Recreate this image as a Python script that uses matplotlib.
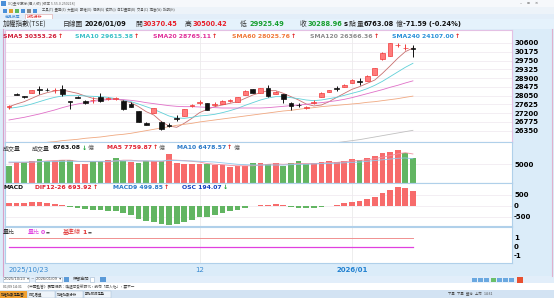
import numpy as np
import matplotlib.pyplot as plt
from matplotlib.patches import Rectangle

W, H = 554, 298
CJK = ['Noto Sans CJK TC', 'DejaVu Sans']

# ---- daily candles 2025/10/23 .. 2026/01/09 ----
opens = [27500, 28090, 28030, 28190, 28340, 28330, 28310, 28360, 27770, 27980,
         27810, 27820, 28000, 27900, 27900, 27810, 27650, 27300, 26710, 27220,
         26790, 26620, 26960, 27060, 27550, 27700, 27680, 27610, 27650, 27780,
         27760, 28080, 28360, 28190, 28400, 28130, 28130, 27710, 27610, 27460,
         27680, 28000, 28240, 28420, 28480, 28680, 28740, 28780, 29050, 29810,
         29970, 30480, 30340, 30370.45]
highs = [27590, 28200, 28050, 28340, 28520, 28440, 28440, 28570, 27790, 28010,
         27830, 27970, 28190, 28000, 28000, 27830, 27720, 27320, 26780, 27460,
         26820, 26720, 27100, 27420, 27650, 27840, 27700, 27720, 27830, 27880,
         28000, 28300, 28380, 28420, 28560, 28260, 28150, 27730, 27700, 27560,
         27830, 28210, 28340, 28520, 28590, 28840, 28890, 29030, 29400, 30150,
         30600, 30580, 30560, 30500.42]
lows = [27420, 28060, 27950, 28170, 28130, 28280, 28190, 28030, 27390, 27930,
        27660, 27710, 27760, 27850, 27860, 27370, 27480, 26750, 26620, 27200,
        26400, 26520, 26830, 27040, 27500, 27600, 27330, 27540, 27630, 27720,
        27740, 28070, 28180, 28170, 28000, 28110, 27710, 27350, 27480, 27400,
        27660, 27990, 28220, 28290, 28460, 28660, 28560, 28760, 29030, 29790,
        29950, 30420, 30280, 29925.49]
closes = [27530, 28070, 27970, 28320, 28320, 28300, 28330, 28130, 27740, 27950,
          27680, 27850, 27800, 27930, 27920, 27390, 27500, 26770, 26650, 27430,
          26440, 26570, 26920, 27400, 27580, 27730, 27360, 27640, 27800, 27800,
          27970, 28290, 28200, 28400, 28030, 28240, 27870, 27550, 27580, 27480,
          27760, 28190, 28320, 28390, 28560, 28810, 28710, 29000, 29370, 30130,
          30580, 30500, 30360.55, 30288.96]

sma5 = [27515, 27644, 27757, 27919, 28080, 28193, 28274, 28323, 28242, 28161,
        28032, 27919, 27870, 27886, 27903, 27806, 27709, 27515, 27273, 27111,
        26788, 26578, 26514, 26708, 26950, 27224, 27386, 27515, 27596, 27677,
        27757, 27919, 28080, 28193, 28290, 28290, 28161, 28000, 27838, 27644,
        27548, 27596, 27757, 27967, 28161, 28355, 28484, 28645, 28807, 29130,
        29485, 29857, 30180, 30353.26]
sma10 = [27434, 27483, 27548, 27644, 27757, 27870, 27967, 28032, 28064, 28064,
         28032, 28016, 28000, 27967, 27903, 27838, 27757, 27644, 27515, 27386,
         27224, 27063, 26966, 26950, 26998, 27063, 27095, 27144, 27224, 27321,
         27434, 27580, 27709, 27838, 27935, 28000, 28000, 27951, 27903, 27838,
         27806, 27838, 27903, 27967, 28064, 28161, 28258, 28387, 28549, 28742,
         28968, 29195, 29421, 29615.38]
sma20 = [26869, 26934, 26998, 27079, 27160, 27257, 27354, 27467, 27564, 27644,
         27709, 27774, 27822, 27854, 27870, 27854, 27822, 27774, 27709, 27661,
         27612, 27564, 27531, 27515, 27515, 27499, 27483, 27467, 27450, 27450,
         27450, 27450, 27450, 27450, 27467, 27499, 27531, 27564, 27596, 27628,
         27677, 27709, 27757, 27806, 27870, 27951, 28048, 28145, 28242, 28339,
         28452, 28549, 28662, 28765.11]
sma60 = [25545, 25593, 25642, 25690, 25739, 25787, 25819, 25868, 25900, 25932,
         25981, 26013, 26045, 26094, 26142, 26175, 26223, 26288, 26352, 26417,
         26481, 26546, 26611, 26659, 26708, 26772, 26821, 26869, 26918, 26966,
         27014, 27063, 27111, 27160, 27208, 27257, 27305, 27337, 27386, 27434,
         27467, 27515, 27548, 27580, 27612, 27644, 27677, 27725, 27757, 27806,
         27854, 27903, 27967, 28025.76]
sma120_tail = [25723, 25771, 25819, 25868, 25916, 25981, 26045, 26110, 26175,
               26239, 26304, 26366.36]

volume = [4500, 5600, 5700, 6000, 6300, 5900, 5900, 6100, 6200, 5000,
          5200, 5900, 5900, 6100, 6800, 6000, 5600, 5400, 5900, 5900,
          5800, 7700, 5300, 5200, 5000, 5000, 5000, 4700, 4700, 4200,
          4500, 4500, 5300, 5300, 5200, 5300, 4500, 5300, 5800, 5200,
          5400, 5600, 5800, 5600, 6000, 6400, 6200, 6700, 7200, 8000,
          8300, 8800, 8000, 6763.08]
vol_up = [0, 1, 0, 1, 0, 0, 1, 0, 0, 1, 1, 0, 0, 1, 0, 0, 1, 0, 0, 1,
          0, 1, 1, 1, 1, 1, 0, 1, 1, 1, 1, 1, 0, 1, 0, 1, 0, 0, 0, 0,
          1, 1, 1, 1, 1, 1, 0, 1, 1, 1, 1, 1, 0, 0]
vol_ma5 = [5400, 5500, 5500, 5600, 5700, 5900, 6000, 6100, 6100, 5800,
           5700, 5700, 5700, 5600, 5900, 6100, 6100, 5900, 5900, 5800,
           5700, 6200, 6100, 6000, 5800, 5600, 5200, 5000, 4900, 4700,
           4600, 4600, 4600, 4800, 5000, 5100, 5000, 5100, 5200, 5200,
           5200, 5300, 5500, 5500, 5700, 5900, 6000, 6200, 6500, 6900,
           7300, 7800, 8100, 7759.87]
vol_ma10 = [5600, 5600, 5600, 5600, 5700, 5700, 5700, 5800, 5800, 5800,
            5800, 5800, 5800, 5800, 5900, 5900, 5900, 5900, 5900, 5900,
            5900, 6000, 6000, 5900, 5900, 5800, 5700, 5600, 5400, 5200,
            5000, 4900, 4800, 4800, 4800, 4800, 4800, 4900, 5000, 5000,
            5100, 5200, 5200, 5300, 5400, 5500, 5600, 5800, 6000, 6200,
            6400, 6600, 6700, 6478.57]

dif = [120, 140, 130, 160, 170, 150, 110, 50, -40, -80,
       -140, -170, -200, -210, -220, -320, -420, -580, -700, -720,
       -820, -850, -820, -720, -620, -520, -480, -400, -320, -240,
       -160, -70, -20, 40, 50, 70, 30, -30, -70, -100,
       -90, -40, 10, 60, 120, 200, 240, 310, 410, 570,
       740, 860, 810, 693.92]

vol_ratio = [0] * len(closes)
base_line = [1] * len(closes)

price_ticks = [30600, 30175, 29750, 29325, 28900, 28475, 28050, 27625, 27200, 26775, 26350]
date_pos = [0, 25, 45]
date_labels = ['2025/10/23', '12', '2026/01']

UP, UP_EDGE, DOWN = '#ff7b7b', '#f03c3c', '#111111'
BAR_R, BAR_G = '#f76b6b', '#62b562'

n = len(closes)
x = np.arange(n)
o = np.array(opens); c = np.array(closes)

fig = plt.figure(figsize=(W / 100, H / 100), dpi=100, facecolor='#dbecf9')
renderer = fig.canvas.get_renderer()


def box(x0, y0, x1, y1, fc, ec='none', lw=0.5):
    fig.add_artist(Rectangle((x0 / W, 1 - y1 / H), (x1 - x0) / W, (y1 - y0) / H,
                             transform=fig.transFigure, facecolor=fc, edgecolor=ec, lw=lw))


def put(px, py, s, color='#222222', size=4.5, bold=True, cjk=False):
    t = fig.text(px / W, 1 - py / H, s, color=color, fontsize=size,
                 fontweight='bold' if bold else 'normal',
                 family=CJK if cjk else 'DejaVu Sans', va='center', ha='left')
    return t.get_window_extent(renderer).x1


def panel(y0, y1):
    return fig.add_axes([5 / W, 1 - y1 / H, 507 / W, (y1 - y0) / H])


def style(ax, ticks, ylim, border):
    ax.set_xlim(-0.52, 66.0)
    ax.set_ylim(*ylim)
    ax.yaxis.tick_right()
    ax.set_yticks(ticks)
    ax.set_yticklabels([str(t) for t in ticks])
    ax.tick_params(axis='y', length=0, pad=1.5, labelsize=5)
    for lab in ax.get_yticklabels():
        lab.set_fontweight('bold')
    ax.set_xticks([])
    ax.grid(axis='y', color='#efe8ee', lw=0.5)
    ax.set_axisbelow(True)
    for s in ax.spines.values():
        s.set_color(border)
        s.set_linewidth(0.8)
    for v in date_pos[1:]:
        ax.axvline(v, color='#e8e8e8', lw=0.5, zorder=0)


# ---------- window chrome ----------
box(0, 0, 554, 7, '#f6f8fb')
box(1, 1, 6, 6, '#4a8fd8')
put(8, 3.6, 'XQ全球贏家(個人版) [版本 5.55.0.250218]', '#666666', 2.6, False, True)
put(520, 3.4, '–    ▫    ×', '#555555', 3, False)
box(0, 7, 554, 14, '#edf3f9')
for i, col in enumerate(['#4a90d9', '#e0a030', '#5cb85c', '#4a90d9', '#888888', '#4a90d9']):
    box(3 + i * 6, 8.5, 7 + i * 6, 12.5, col)
put(42, 10.5, '工具(T)  畫面(E)  大盤(A)  期權(O)  個股(S)  資訊(I)  自訂畫面(B)  交易(C)  視窗(W)  說明(H)',
    '#555555', 2.4, False, True)
box(0, 14, 554, 19, '#e3eef9')
put(5, 16.5, '商品搜尋', '#4a90d9', 2.8, False, True)
box(25, 14.5, 52, 19, '#ffffff', '#e0a0a0', 0.4)
put(27, 16.5, '技術分析', '#e03030', 2.8, False, True)
box(0, 19, 554, 29, '#e5f2fc')

# header line: anchors from the picture, pushed right only if a piece would overlap
HS, HC = 4.8, 4.9
head = [(3, '加權指數(TSE)', '#333333', True), (63, '日線圖', '#333333', True),
        (83, '2026/01/09', '#111111', False), (135, '開', '#333333', True),
        (142, '30370.45', '#e8202a', False), (185, '高', '#333333', True),
        (193, '30500.42', '#e8202a', False), (240, '低', '#333333', True),
        (249, '29925.49', '#18a030', False), (300, '收', '#333333', True),
        (307, '30288.96', '#18a030', False), (338, 's', '#111111', False),
        (344, '點', '#333333', True), (356, '量', '#333333', True),
        (363, '6763.08', '#111111', False), (391, '億', '#333333', True),
        (402, '-71.59 (-0.24%)', '#111111', False)]
end = 0
for px, s, col, is_cjk in head:
    px = max(px, end + 1)
    if is_cjk:
        end = put(px, 24, s, col, HC, False, True)
    else:
        end = put(px, 24, s, col, HS)

# frame lines
fig.add_artist(plt.Line2D([2.5 / W, 2.5 / W], [1 - 29 / H, 1 - 276 / H], transform=fig.transFigure,
                          color='#d8a0c8', lw=0.8))
fig.add_artist(plt.Line2D([551.5 / W, 551.5 / W], [1 - 29 / H, 1 - 276 / H], transform=fig.transFigure,
                          color='#e0b0cc', lw=0.8))

# ---------- price panel ----------
ax1 = panel(30, 142)
style(ax1, price_ticks, (25802, 31230), '#e4c0e4')
up = c >= o
face = [UP if u else DOWN for u in up]
edge = [UP_EDGE if u else DOWN for u in up]
ax1.vlines(x, lows, highs, colors=edge, lw=0.7, zorder=2)
ax1.bar(x, np.maximum(np.abs(c - o), 35), bottom=np.minimum(o, c), width=0.62,
        color=face, edgecolor=edge, lw=0.5, zorder=3)
ax1.plot(x, sma5, color='#c87070', lw=0.6, zorder=1)
ax1.plot(x, sma10, color='#60d0d8', lw=0.6, zorder=1)
ax1.plot(x, sma20, color='#e070c8', lw=0.6, zorder=1)
ax1.plot(x, sma60, color='#f0a880', lw=0.6, zorder=1)
ax1.plot(x[-len(sma120_tail):], sma120_tail, color='#c0c0c0', lw=0.6, zorder=1)

legend = [(3, 'SMA5 30353.26', '#d0203a'), (75, 'SMA10 29615.38', '#3cc0c8'),
          (153, 'SMA20 28765.11', '#e0309a'), (232, 'SMA60 28025.76', '#f07838'),
          (310, 'SMA120 26366.36', '#8c8c8c'), (392, 'SMA240 24107.00', '#2890d8')]
for px, s, col in legend:
    xx = put(px, 37, s, col, 4.4)
    put(xx + 1, 37, '↑', '#e02020', 4.4)

# ---------- volume panel ----------
ax2 = panel(142, 183)
style(ax2, [5000], (0, 10960), '#b0d0ea')
ax2.bar(x, volume, width=0.75, color=[BAR_R if u else BAR_G for u in vol_up], zorder=2)
ax2.plot(x, vol_ma5, color='#f090a0', lw=0.6, zorder=3)
ax2.plot(x, vol_ma10, color='#90c8ec', lw=0.6, zorder=3)
put(3, 148, '成交量', '#333333', 4.3, False, True)
put(32, 148, '成交量', '#333333', 4.3, False, True)
xx = put(53, 148, '6763.08', '#111111', 4.4)
xx = put(xx + 1, 148, '↓', '#18a030', 4.4)
put(xx + 1, 148, '億', '#666666', 4.3, False, True)
xx = put(107, 148, 'MA5 7759.87', '#e02030', 4.4)
xx = put(xx + 1, 148, '↑', '#e02020', 4.4)
put(xx + 1, 148, '億', '#666666', 4.3, False, True)
xx = put(177, 148, 'MA10 6478.57', '#2878c8', 4.4)
xx = put(xx + 1, 148, '↑', '#e02020', 4.4)
put(xx + 1, 148, '億', '#666666', 4.3, False, True)

# ---------- MACD panel ----------
ax3 = panel(183, 226)
style(ax3, [500, 0, -500], (-909, 1045), '#b0d0ea')
ax3.bar(x, dif, width=0.75, color=[BAR_R if d >= 0 else BAR_G for d in dif], zorder=2)
put(3, 187.5, 'MACD', '#111111', 4.4)
xx = put(35, 187.5, 'DIF12-26 693.92', '#e02030', 4.4)
put(xx + 1, 187.5, '↑', '#e02020', 4.4)
xx = put(113, 187.5, 'MACD9 499.85', '#2878c8', 4.4)
put(xx + 1, 187.5, '↑', '#e02020', 4.4)
xx = put(182, 187.5, 'OSC 194.07', '#1040c0', 4.4)
put(xx + 1, 187.5, '↓', '#18a030', 4.4)

# ---------- volume ratio panel ----------
ax4 = panel(227, 263)
style(ax4, [1, 0, -1], (-1.81, 2.19), '#b0d0ea')
ax4.grid(False)
ax4.plot(x, base_line, color='#f09090', lw=0.7)
ax4.plot(x, vol_ratio, color='#e040e0', lw=0.9)
ax4.set_xticks(date_pos)
ax4.set_xticklabels(date_labels)
ax4.tick_params(axis='x', length=0, pad=3.2, labelsize=5, labelcolor='#3a8ad0')
xl = ax4.get_xticklabels()
xl[0].set_ha('left')
xl[2].set_fontweight('bold')
xl[2].set_color('#2080d0')
put(3, 232.5, '量比', '#333333', 4.3, False, True)
xx = put(28, 232.5, '量比', '#e040e0', 4.3, False, True)
xx = put(xx + 1, 232.5, '0', '#e040e0', 4.4)
put(xx + 1, 232.5, '▬', '#555555', 3)
xx = put(63, 232.5, '基準線', '#e03030', 4.3, False, True)
xx = put(xx + 1, 232.5, '1', '#e03030', 4.4)
put(xx + 1, 232.5, '▬', '#555555', 3)

# ---------- bottom bars ----------
box(0, 276, 554, 283, '#e2eefa')
box(3, 277, 29, 282, '#ffffff', '#a0b8d0', 0.4)
put(4, 279.5, '2025/10/23  ▾', '#444444', 2.6, False)
put(31, 279.5, '~', '#444444', 3, False)
box(35, 277, 62, 282, '#ffffff', '#a0b8d0', 0.4)
put(36, 279.5, '2026/01/09  ▾', '#444444', 2.6, False)
box(64, 277, 69, 282, '#5a9ad8')
put(73, 279.5, '保留空間', '#444444', 3, False, True)
box(90, 277, 94, 282, '#ffffff', '#a0b8d0', 0.4)
box(100, 277, 106, 282, '#5a9ad8')
for i, col in enumerate(['#6aa8e0', '#6aa8e0', '#6aa8e0', '#6abf6a', '#6aa8e0', '#6aa8e0', '#6aa8e0']):
    box(472 + i * 6.2, 277.5, 477 + i * 6.2, 282, col)
box(517, 277, 523, 282.5, '#e85030')
box(0, 283, 554, 290, '#ffffff')
put(3, 286.5, '01/09 14:31     《中國監管》屬電視劇：喚起可愛新時代，請勿「成人化」，要不一', '#444444', 2.6, False, True)
box(0, 290, 554, 298, '#d3e3f3')
box(0, 291, 27, 297.5, '#f0a030')
put(1, 294.3, '加權指數走勢圖', '#222222', 2.4, False, True)
for i, s in enumerate(['排名看盤', '加權指數分析', '期指即時走勢']):
    box(28 + i * 28, 291, 55 + i * 28, 297.5, '#eef4fa', '#a0b8d0', 0.3)
    put(29 + i * 28, 294.3, s, '#333333', 2.4, False, True)
put(448, 294.3, '下單   下單   盤後   上市   14:31', '#444444', 2.4, False, True)

fig.savefig('out.png', dpi=100, facecolor=fig.get_facecolor())
